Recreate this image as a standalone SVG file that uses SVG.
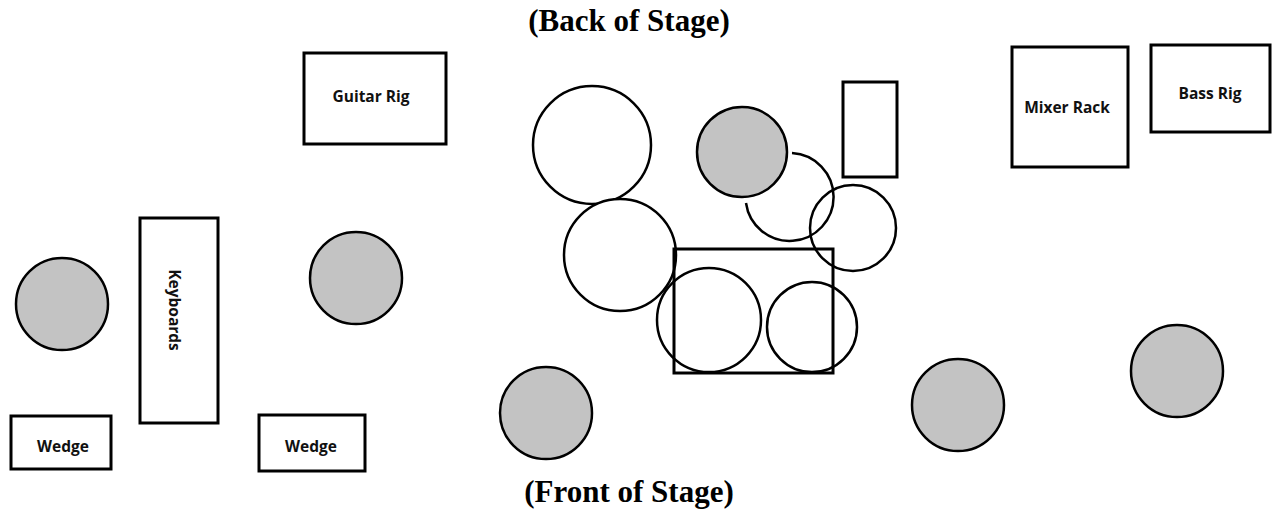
<svg xmlns="http://www.w3.org/2000/svg" width="1272" height="510" viewBox="0 0 1272 510">
<style>
.box{fill:#fff;stroke:#000;stroke-width:3}
.thin{fill:none;stroke:#000;stroke-width:3}
.drum{fill:#fff;stroke:#000;stroke-width:2.5}
.arc{fill:none;stroke:#000;stroke-width:2.5}
.pos{fill:#c3c3c3;stroke:#000;stroke-width:2.5}
.lbl{font-family:"Open Sans","Liberation Sans",sans-serif;font-weight:700;font-size:15.5px;fill:#111;text-anchor:middle;dominant-baseline:central}
.title{font-family:"Liberation Serif","Times New Roman",serif;font-weight:700;font-size:31px;fill:#000;text-anchor:middle}
</style>
<rect width="1272" height="510" fill="#fff"/>
<text class="title" x="629" y="31">(Back of Stage)</text>
<text class="title" x="629" y="502">(Front of Stage)</text>

<g id="guitar-rig"><rect class="box" x="304" y="53" width="142" height="91"/><text class="lbl" x="371" y="96">Guitar Rig</text></g>
<g id="keyboards"><rect class="box" x="140" y="218" width="78" height="205"/><text class="lbl" transform="translate(175 310) rotate(90)" x="0" y="0">Keyboards</text></g>
<g id="wedge-1"><rect class="box" x="11" y="416" width="100" height="53"/><text class="lbl" x="63" y="446">Wedge</text></g>
<g id="wedge-2"><rect class="box" x="259" y="415" width="106" height="56"/><text class="lbl" x="311" y="446">Wedge</text></g>
<g id="mixer-rack"><rect class="box" x="1012" y="47" width="116" height="120"/><text class="lbl" x="1067" y="107">Mixer Rack</text></g>
<g id="bass-rig"><rect class="box" x="1151" y="45" width="119" height="87"/><text class="lbl" x="1210" y="93">Bass Rig</text></g>

<g id="drum-kit">
<circle class="drum" cx="592" cy="145" r="59"/>
<circle class="drum" cx="620" cy="255" r="56"/>
<rect class="box" x="843" y="82" width="54" height="95"/>
<path class="arc" d="M792 153 A44 44 0 1 1 746 203"/>
<circle class="arc" cx="853" cy="228" r="43"/>
<rect class="thin" x="674" y="249" width="159" height="124"/>
<circle class="arc" cx="709" cy="320" r="52"/>
<circle class="arc" cx="812" cy="327" r="45"/>
</g>

<g id="positions">
<circle class="pos" cx="742" cy="152" r="45"/>
<circle class="pos" cx="62" cy="304" r="46"/>
<circle class="pos" cx="356" cy="278" r="46"/>
<circle class="pos" cx="546" cy="413" r="46"/>
<circle class="pos" cx="958" cy="405" r="46"/>
<circle class="pos" cx="1177" cy="371" r="46"/>
</g>
<g id="connectors"/>
</svg>
